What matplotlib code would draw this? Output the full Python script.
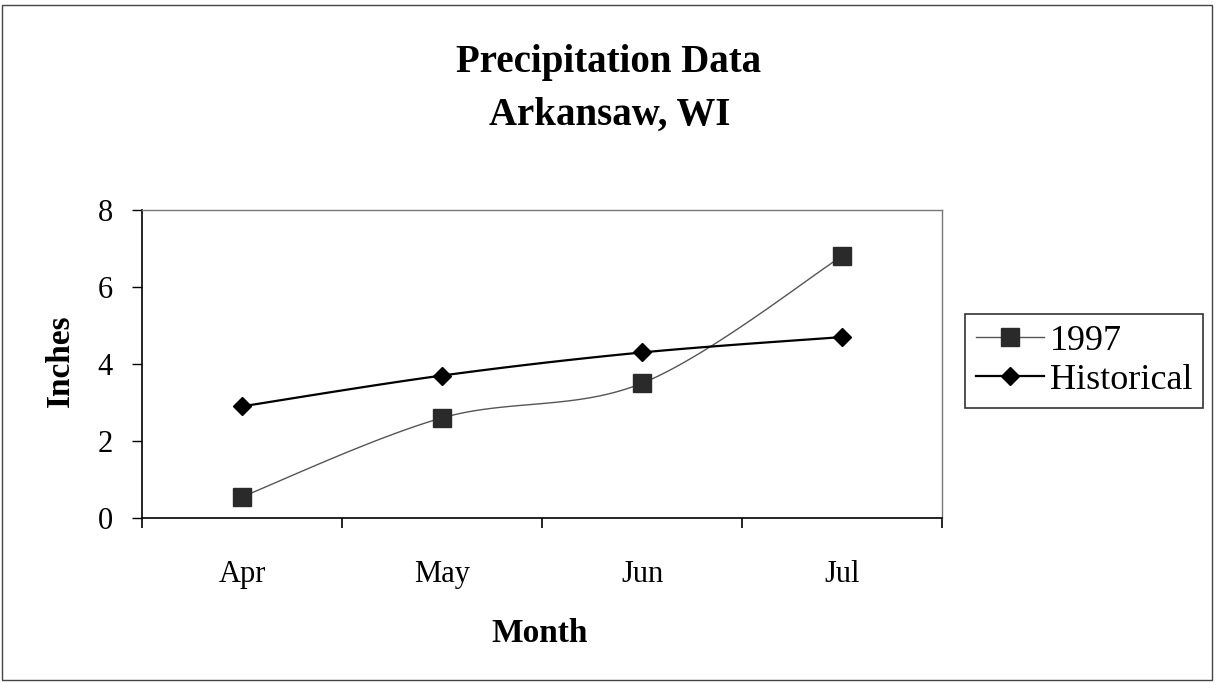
import numpy as np
import matplotlib.pyplot as plt
from matplotlib.patches import Rectangle

months = ["Apr", "May", "Jun", "Jul"]
rain_1997 = [0.55, 2.6, 3.5, 6.8]
historical = [2.9, 3.7, 4.3, 4.7]


def smooth(xs, ys, n=40):
    # Excel-style smoothed line: cubic Bezier between points
    p = np.column_stack([xs, ys]).astype(float)
    p = np.vstack([p[0], p, p[-1]])
    out = []
    for i in range(1, len(p) - 2):
        p0, p3 = p[i], p[i + 1]
        c1 = p0 + (p[i + 1] - p[i - 1]) / 6.0
        c2 = p3 - (p[i + 2] - p[i]) / 6.0
        t = np.linspace(0, 1, n)[:, None]
        seg = ((1 - t) ** 3) * p0 + 3 * ((1 - t) ** 2) * t * c1 + 3 * (1 - t) * t ** 2 * c2 + t ** 3 * p3
        out.append(seg if i == 1 else seg[1:])
    seg = np.vstack(out)
    return seg[:, 0], seg[:, 1]


plt.rcParams['font.family'] = ['Liberation Serif', 'DejaVu Serif']

W, H = 1218, 683
fig = plt.figure(figsize=(W / 100, H / 100), dpi=100)
ax = fig.add_axes([142 / W, 1 - 518 / H, 800 / W, 308 / H])

x = np.arange(len(months))
sx, sy = smooth(x, rain_1997)
ax.plot(sx, sy, color="#555555", lw=1.0)
ax.plot(x, rain_1997, ls="none", marker="s", ms=13, color="#2a2a2a")
hx, hy = smooth(x, historical)
ax.plot(hx, hy, color="black", lw=1.6)
ax.plot(x, historical, ls="none", marker="D", ms=9.5, color="black")

ax.set_xlim(-0.5, 3.5)
ax.set_ylim(0, 8)
ax.set_yticks([0, 2, 4, 6, 8])
ax.set_xticks(x)
ax.set_xticklabels(months)
ax.set_xticks([-0.5, 0.5, 1.5, 2.5, 3.5], minor=True)
ax.tick_params(axis="x", which="major", length=0, labelsize=22, pad=30)
ax.tick_params(axis="x", which="minor", length=7, width=1.2, direction="out")
ax.tick_params(axis="y", length=7, width=1, labelsize=22, pad=14)
for s in ["left", "bottom"]:
    ax.spines[s].set_color("black")
    ax.spines[s].set_linewidth(1.2)
for s in ["top", "right"]:
    ax.spines[s].set_color("#777777")
    ax.spines[s].set_linewidth(1.0)

ax.set_ylabel("Inches", fontsize=24, fontweight="bold", va="center")
ax.yaxis.set_label_coords((60 - 142) / 800, (518 - 361) / 308)
ax.set_xlabel("Month", fontsize=24, fontweight="bold", va="baseline")
ax.xaxis.set_label_coords(0.497, (518 - 642) / 308)

fig.text(609 / W, 1 - 72 / H, "Precipitation Data", ha="center", va="baseline", fontsize=28, fontweight="bold")
fig.text(610 / W, 1 - 125 / H, "Arkansaw, WI", ha="center", va="baseline", fontsize=28, fontweight="bold")

# legend
h1, = ax.plot([], [], color="#555555", lw=1.0, marker="s", ms=13, markerfacecolor="#2a2a2a", markeredgecolor="#2a2a2a")
h2, = ax.plot([], [], color="black", lw=1.6, marker="D", ms=9.5)
leg = fig.legend([h1, h2], ["1997", "Historical"], loc="upper left",
                 bbox_to_anchor=(965 / W, 1 - 314 / H), fontsize=26,
                 frameon=True, fancybox=False, handlelength=1.9, borderpad=0.3,
                 handletextpad=0.15, labelspacing=0.15, borderaxespad=0)
leg.get_frame().set_edgecolor("black")
leg.get_frame().set_linewidth(1.2)

# outer border
fig.patches.append(Rectangle((2 / W, 3 / H), 1210 / W, 675 / H, transform=fig.transFigure,
                             fill=False, edgecolor="#444444", lw=1.0))

fig.savefig("out.png", dpi=100)
